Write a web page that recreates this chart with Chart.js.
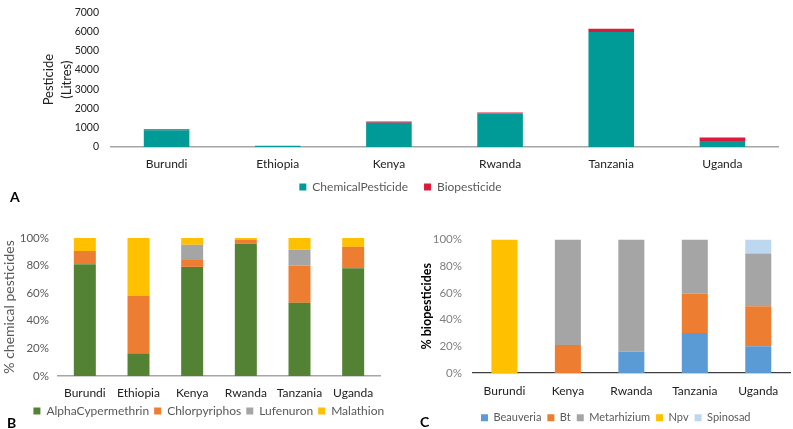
<!DOCTYPE html>
<html>
<head>
<meta charset="utf-8">
<script src="https://cdn.jsdelivr.net/npm/chart.js@4"></script>
<style>
  html, body { margin: 0; padding: 0; background: #fff; overflow: hidden; }
  body { width: 793px; height: 429px; position: relative; font-family: Lato, sans-serif; }
  .box { position: absolute; }
  .tag { position: absolute; font: bold 14px Lato, sans-serif; color: #000; }
</style>
</head>
<body>
<div class="box" style="left:0;top:-6px;width:793px;height:219px"><canvas id="chartA"></canvas></div>
<div class="box" style="left:0;top:222px;width:400px;height:209px"><canvas id="chartB"></canvas></div>
<div class="box" style="left:400px;top:222px;width:393px;height:206px"><canvas id="chartC"></canvas></div>
<div class="tag" style="left:10px;top:188px">A</div>
<div class="tag" style="left:7px;top:414px">B</div>
<div class="tag" style="left:420px;top:413px">C</div>

<script>
// panel A - litres of pesticide per country
const countriesA = ["Burundi", "Ethiopia", "Kenya", "Rwanda", "Tanzania", "Uganda"];
const chemicalLitres = [870, 60, 1260, 1740, 5970, 310];
const bioLitres = [50, 0, 60, 50, 170, 180];
const ticksA = [0, 1000, 2000, 3000, 4000, 5000, 6000, 7000];

// panel B - share of each chemical pesticide (%)
const countriesB = ["Burundi", "Ethiopia", "Kenya", "Rwanda", "Tanzania", "Uganda"];
const alphaCyp = [81, 16, 79, 96, 53, 78];
const chlorpyr = [9.5, 42, 5, 2.5, 27, 15.5];
const lufenuron = [0, 0, 11, 0.5, 11.5, 0];
const malathion = [9.5, 42, 5, 1, 8.5, 6.5];

// panel C - share of each biopesticide (%)
const countriesC = ["Burundi", "Kenya", "Rwanda", "Tanzania", "Uganda"];
const beauveria = [0, 0, 16, 30, 20];
const bt = [0, 21, 0, 29.5, 30];
const metarhizium = [0, 79, 84, 40.5, 39.5];
const npv = [100, 0, 0, 0, 0];
const spinosad = [0, 0, 0, 0, 10.5];
const pctTicks = [0, 20, 40, 60, 80, 100];

const FONT = "Lato, sans-serif";

// fixed widths/heights so the plot areas land where the original has them
function fixWidth(w) { return function(scale) { scale.width = w; }; }
function fixHeight(h) { return function(scale) { scale.height = h; }; }

// nudge the legend after layout (the original's legends are a bit off-centre)
function legendShift(dx, dy) {
    return {
        id: "legendShift",
        afterLayout(chart) {
            const lg = chart.legend;
            lg.left += dx; lg.right += dx;
            lg.top += dy; lg.bottom += dy;
        }
    };
}

function ds(label, data, color) {
    return { label: label, data: data, backgroundColor: color, borderWidth: 0,
             barPercentage: 0.41, categoryPercentage: 1 };
}

function legendOpts(size, pad) {
    return {
        position: "bottom",
        labels: { boxWidth: 7, boxHeight: 7, padding: pad, color: "#595959",
                  font: { family: FONT, size: size } }
    };
}

function xAxis(borderColor, borderWidth, pad) {
    return {
        stacked: true,
        grid: { display: false, drawTicks: false },
        border: { color: borderColor, width: borderWidth },
        ticks: { color: "#222", padding: pad, font: { family: FONT, size: 12 } },
        afterFit: fixHeight(28)
    };
}

// ---- chart A
new Chart(document.getElementById("chartA"), {
    type: "bar",
    data: {
        labels: countriesA,
        datasets: [
            ds("ChemicalPesticide", chemicalLitres, "#009a97"),
            ds("Biopesticide", bioLitres, "#dc1a3e")
        ]
    },
    plugins: [legendShift(-8, -10)],
    options: {
        responsive: true, maintainAspectRatio: false, animation: false,
        layout: { padding: { top: 10, left: 39, right: 15, bottom: 0 } },
        plugins: { legend: legendOpts(12, 16), tooltip: { enabled: false } },
        scales: {
            x: xAxis("#a6a6a6", 1.5, 10),
            y: {
                stacked: true, min: 0, max: 7000,
                grid: { display: false, drawTicks: false },
                border: { display: false },
                afterBuildTicks: (s) => { s.ticks = ticksA.map(v => ({ value: v })); },
                ticks: { color: "#222", padding: 12, font: { family: FONT, size: 10.5 },
                         callback: (v) => String(v) },
                title: { display: true, text: ["Pesticide", "(Litres)"], color: "#222",
                         padding: 0, font: { family: FONT, size: 13, lineHeight: 1.45 } },
                afterFit: fixWidth(72)
            }
        }
    }
});

// ---- chart B
new Chart(document.getElementById("chartB"), {
    type: "bar",
    data: {
        labels: countriesB,
        datasets: [
            ds("AlphaCypermethrin", alphaCyp, "#548235"),
            ds("Chlorpyriphos", chlorpyr, "#ed7d31"),
            ds("Lufenuron", lufenuron, "#a5a5a5"),
            ds("Malathion", malathion, "#ffc000")
        ]
    },
    plugins: [legendShift(18.5, -4)],
    options: {
        responsive: true, maintainAspectRatio: false, animation: false,
        layout: { padding: { top: 10, left: 0.6, right: 20, bottom: 0 } },
        plugins: { legend: legendOpts(12, 5), tooltip: { enabled: false } },
        scales: {
            x: xAxis("#a6a6a6", 1.5, 10),
            y: {
                stacked: true, min: 0, max: 100,
                grid: { display: false, drawTicks: false },
                border: { display: false },
                afterBuildTicks: (s) => { s.ticks = pctTicks.map(v => ({ value: v })); },
                ticks: { color: "#595959", padding: 9, font: { family: FONT, size: 11.5 },
                         callback: (v) => v + "%" },
                title: { display: true, text: "% chemical pesticides", color: "#595959",
                         padding: 0, font: { family: FONT, size: 14 } },
                afterFit: fixWidth(57.4)
            }
        }
    }
});

// ---- chart C
new Chart(document.getElementById("chartC"), {
    type: "bar",
    data: {
        labels: countriesC,
        datasets: [
            ds("Beauveria", beauveria, "#5b9bd5"),
            ds("Bt", bt, "#ed7d31"),
            ds("Metarhizium", metarhizium, "#a5a5a5"),
            ds("Npv", npv, "#ffc000"),
            ds("Spinosad", spinosad, "#bdd7ee")
        ]
    },
    plugins: [legendShift(11, 5.2)],
    options: {
        responsive: true, maintainAspectRatio: false, animation: false,
        layout: { padding: { top: 12, left: 19.5, right: 3, bottom: 0 } },
        plugins: { legend: legendOpts(11, 6), tooltip: { enabled: false } },
        scales: {
            x: xAxis("#404040", 1.2, 10.7),
            y: {
                stacked: true, min: 0, max: 100,
                grid: { display: false, drawTicks: false },
                border: { display: false },
                afterBuildTicks: (s) => { s.ticks = pctTicks.map(v => ({ value: v })); },
                ticks: { color: "#7f7f7f", padding: 10.7, font: { family: FONT, size: 11.5 },
                         callback: (v) => v + "%" },
                title: { display: true, text: "% biopesticides", color: "#000",
                         padding: 0, font: { family: FONT, size: 12.5, weight: "bold" } },
                afterFit: fixWidth(53.2)
            }
        }
    }
});
</script>
</body>
</html>
